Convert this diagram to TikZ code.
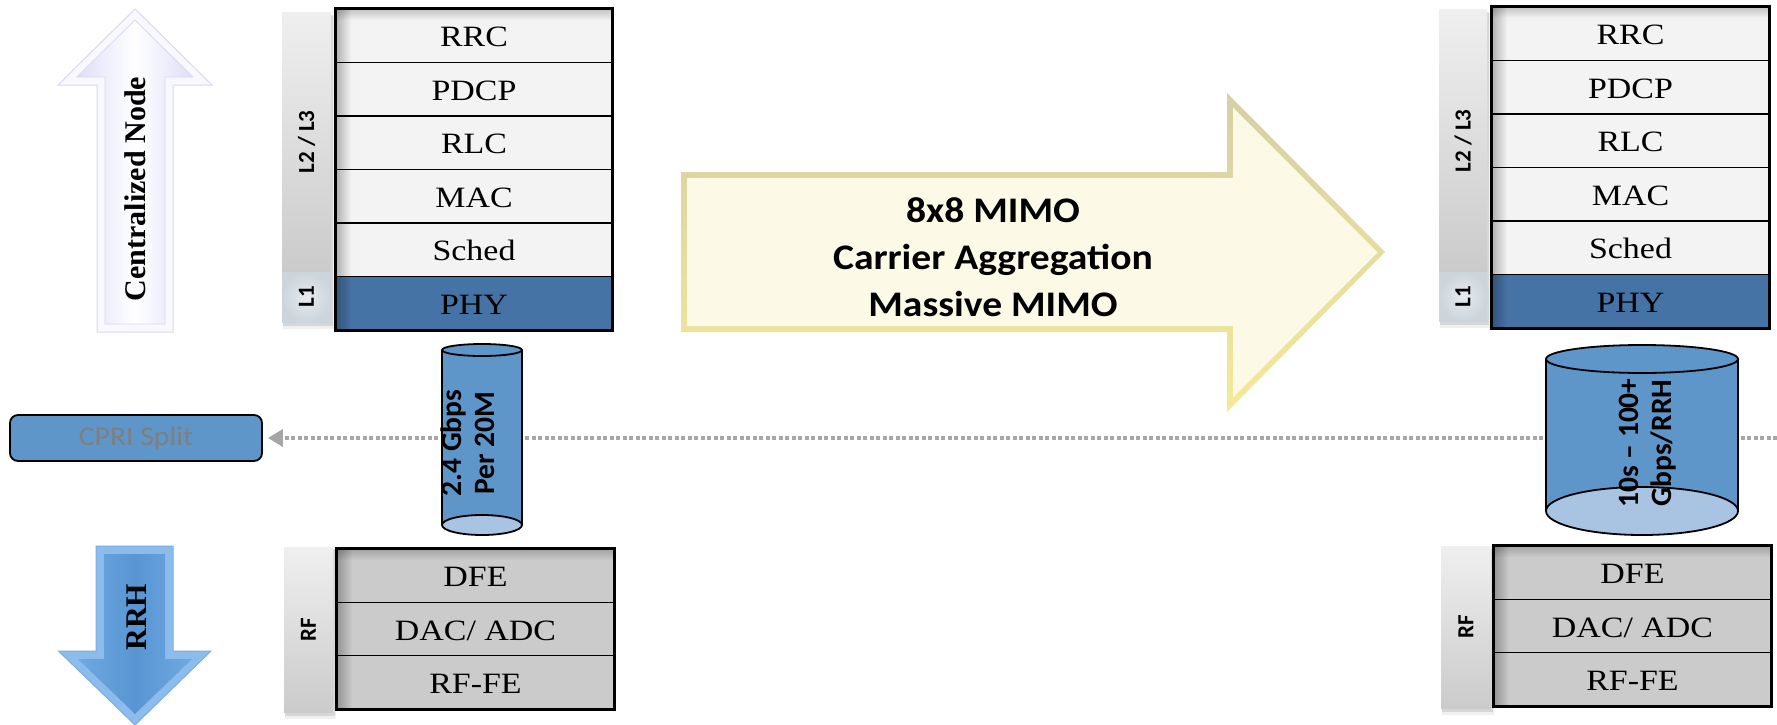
\documentclass[tikz,border=0pt]{standalone}
\usepackage{fontspec}
\setmainfont{Liberation Serif}
\newfontfamily\layerfont[FakeStretch=1.15]{Liberation Serif}
\newfontfamily\calibfont{Carlito}
\newfontfamily\calibwide[FakeStretch=1.1]{Carlito}
\usetikzlibrary{arrows.meta,fadings}

\definecolor{rowgray}{HTML}{F3F3F3}
\definecolor{phyblue}{HTML}{4673A5}
\definecolor{rfgray}{HTML}{CBCBCB}
\definecolor{pipeblue}{HTML}{5E96CA}
\definecolor{pipelight}{HTML}{A9C4E2}
\definecolor{dotgray}{HTML}{A6A6A6}
\definecolor{labelgray}{HTML}{7F7F7F}
\definecolor{barlight}{HTML}{EFEFEF}
\definecolor{bardark}{HTML}{CBCBCB}
\definecolor{lonelight}{HTML}{E6ECF0}
\definecolor{lonedark}{HTML}{CCD5DB}
\definecolor{creamfill}{HTML}{FCF9E7}
\definecolor{creamdark}{HTML}{D6CFA6}
\definecolor{creamyellow}{HTML}{F4EA98}
\definecolor{lavrim}{HTML}{F8F8FE}
\definecolor{lavline}{HTML}{D9D9F3}
\definecolor{lavmid}{HTML}{DEDEF8}
\definecolor{rrhrim}{HTML}{8CBCEB}
\definecolor{rrhline}{HTML}{79AEE3}
\definecolor{rrhside}{HTML}{6FA9E2}
\definecolor{rrhmid}{HTML}{5895D2}

% soft shadow under a side bar
\newcommand\barshadow[4]{%
  \fill[black,opacity=.06] ({#1+1},{#2+3}) rectangle ({#3+3},{#4+7});
  \fill[black,opacity=.10] ({#1+1},{#2+2}) rectangle ({#3+2},{#4+4});
}
% inner shadow along the left and top edges of a stack
\newcommand\stackinnershade[4]{%
  \fill[black,opacity=.25,path fading=east] (#1,#2) rectangle ({#1+14},#4);
  \fill[black,opacity=.18,path fading=south] (#1,#2) rectangle (#3,{#2+10});
}

\tikzset{
  layerrow/.style={draw=black, line width=1.6pt, minimum width=276pt,
    minimum height=53.5pt, inner sep=0pt, text height=22pt, text depth=0pt,
    font=\layerfont\fontsize{29.5}{31}\selectfont},
  rfrow/.style={layerrow, fill=rfgray, minimum width=277pt, minimum height=53.33pt},
  sidelabel/.style={rotate=90, font=\calibfont\bfseries\fontsize{23}{25}\selectfont},
  pipetext/.style={rotate=90, align=center, font=\calibfont\bfseries\fontsize{29.5}{33}\selectfont},
  dotlink/.style={draw=dotgray, line width=4pt, dash pattern=on 4pt off 2.5pt,
    -{Triangle[length=15pt,width=17pt]}, shorten >=5pt},
  cpribox/.style={draw=black, line width=1.8pt, fill=pipeblue, rounded corners=8pt,
    minimum width=252pt, minimum height=46pt, inner sep=0pt, text=labelgray,
    font=\calibwide\fontsize{27}{30}\selectfont},
  arrowlabel/.style={align=center, font=\calibwide\bfseries\fontsize{36}{47}\selectfont},
  sidearrowlabel/.style={rotate=90, font=\bfseries\fontsize{30}{34}\selectfont},
  pipewall/.style={line width=1.8pt, draw=black},
}

\begin{document}
\begin{tikzpicture}[x=1pt,y=-1pt]
\useasboundingbox (0,0) rectangle (1777,725);
\fill[white] (0,0) rectangle (1777,725);

% ---------- Centralized Node arrow (up) ----------
\filldraw[fill=lavrim, draw=lavline, line width=1pt]
  (97,332) -- (97,85) -- (58,85) -- (135,9) -- (212,85) -- (173,85) -- (173,332) -- cycle;
\shade[left color=lavmid, right color=lavmid, middle color=white]
  (105,324) -- (105,77) -- (77,77) -- (135,20) -- (193,77) -- (165,77) -- (165,324) -- cycle;
\draw[lavline, line width=0.8pt]
  (105,324) -- (105,77) -- (77,77) -- (135,20) -- (193,77) -- (165,77) -- (165,324) -- cycle;
\node[sidearrowlabel] (cnode) at (135,189) {Centralized Node};

% ---------- RRH arrow (down) ----------
\filldraw[fill=rrhrim, draw=rrhline, line width=1pt]
  (96,546) -- (173,546) -- (173,651) -- (211,651) -- (135,725) -- (58.5,651) -- (96,651) -- cycle;
\shade[left color=rrhside, right color=rrhside, middle color=rrhmid]
  (104,554) -- (165,554) -- (165,659) -- (192,659) -- (135,714) -- (78,659) -- (104,659) -- cycle;
\node[sidearrowlabel] (rrh) at (137,617) {RRH};

% ---------- feature arrow ----------
\shade[top color=creamdark, bottom color=creamyellow]
  (681,172) -- (1227,172) -- (1227,93) -- (1385,252) -- (1227,412) -- (1227,332) -- (681,332) -- cycle;
\fill[creamfill]
  (687,178) -- (1233,178) -- (1233,107.5) -- (1377.5,252.5) -- (1233,397.5) -- (1233,326) -- (687,326) -- cycle;
\node[arrowlabel] (feat) at (993,257) {8x8 MIMO\\Carrier Aggregation\\Massive MIMO};

% ---------- CPRI split and the dotted split line ----------
\node[cpribox] (cpri) at (136,438) {CPRI Split};
\coordinate (splitend) at (1777,438);
\draw[dotlink] (splitend) -- (cpri.east);

% ---------- left L2/L3 stack ----------
\barshadow{282}{13}{331}{322}
\shade[top color=barlight, bottom color=bardark] (282,13) rectangle (331,272);
\shade[inner color=lonelight, outer color=lonedark] (282,272) rectangle (331,322);
\node[sidelabel] (lbarl23) at (306.5,142) {L2 / L3};
\node[sidelabel] (lbarl1) at (306.5,297) {L1};

\foreach \nm/\lab [count=\i from 0] in {rrc/RRC,pdcp/PDCP,rlc/RLC,mac/MAC,sched/Sched}
  \node[layerrow, fill=rowgray] (L\nm) at (474,{35.75+53.5*\i}) {\lab};
\node[layerrow, fill=phyblue] (Lphy) at (474,{35.75+53.5*5}) {PHY};
\stackinnershade{337}{10}{611}{329}
\draw[line width=3pt] (Lrrc.north west) rectangle (Lphy.south east);

% ---------- right L2/L3 stack ----------
\barshadow{1439}{10}{1487}{321}
\shade[top color=barlight, bottom color=bardark] (1439,10) rectangle (1487,272);
\shade[inner color=lonelight, outer color=lonedark] (1439,272) rectangle (1487,321);
\node[sidelabel] (rbarl23) at (1463,141) {L2 / L3};
\node[sidelabel] (rbarl1) at (1463,296.5) {L1};

\foreach \nm/\lab [count=\i from 0] in {rrc/RRC,pdcp/PDCP,rlc/RLC,mac/MAC,sched/Sched}
  \node[layerrow, fill=rowgray, minimum width=277pt] (R\nm) at (1630.5,{33.75+53.5*\i}) {\lab};
\node[layerrow, fill=phyblue, minimum width=277pt] (Rphy) at (1630.5,{33.75+53.5*5}) {PHY};
\stackinnershade{1493}{8}{1768}{327}
\draw[line width=3pt] (Rrrc.north west) rectangle (Rphy.south east);

% ---------- left RF stack ----------
\barshadow{284}{547}{333}{712}
\shade[top color=barlight, bottom color=bardark] (284,547) rectangle (333,712);
\node[sidelabel] (lbarrf) at (308.5,629.5) {RF};
\node[rfrow] (Ldfe) at (475.5,575.67) {DFE};
\node[rfrow] (Ldac) at (475.5,629) {DAC/ ADC};
\node[rfrow] (Lrffe) at (475.5,682.33) {RF-FE};
\stackinnershade{338}{550}{613}{708}
\draw[line width=3pt] (Ldfe.north west) rectangle (Lrffe.south east);

% ---------- right RF stack ----------
\barshadow{1441}{546}{1491}{708}
\shade[top color=barlight, bottom color=bardark] (1441,546) rectangle (1491,708);
\node[sidelabel] (rbarrf) at (1466,627) {RF};
\node[rfrow] (Rdfe) at (1632.5,572.67) {DFE};
\node[rfrow] (Rdac) at (1632.5,626) {DAC/ ADC};
\node[rfrow] (Rrffe) at (1632.5,679.33) {RF-FE};
\stackinnershade{1495}{547}{1770}{705}
\draw[line width=3pt] (Rdfe.north west) rectangle (Rrffe.south east);

% ---------- fronthaul pipes ----------
\fill[pipeblue] (442,350) rectangle (522,525);
\filldraw[fill=pipelight, pipewall] (482,525) ellipse [x radius=40pt, y radius=10pt];
\draw[pipewall] (442,350) -- (442,525) (522,350) -- (522,525);
\filldraw[fill=pipeblue, pipewall] (482,350) ellipse [x radius=40pt, y radius=6pt];
\node[pipetext] (lrate) at (467.5,443) {2.4 Gbps\\Per 20M};

\fill[pipeblue] (1546,359) rectangle (1738,511);
\filldraw[fill=pipelight, pipewall] (1642,511) ellipse [x radius=96pt, y radius=24pt];
\draw[pipewall] (1546,359) -- (1546,511) (1738,359) -- (1738,511);
\filldraw[fill=pipeblue, pipewall] (1642,359) ellipse [x radius=96pt, y radius=14pt];
\node[pipetext] (rrate) at (1647.5,443) {10s – 100+\\Gbps/RRH};

\end{tikzpicture}
\end{document}
